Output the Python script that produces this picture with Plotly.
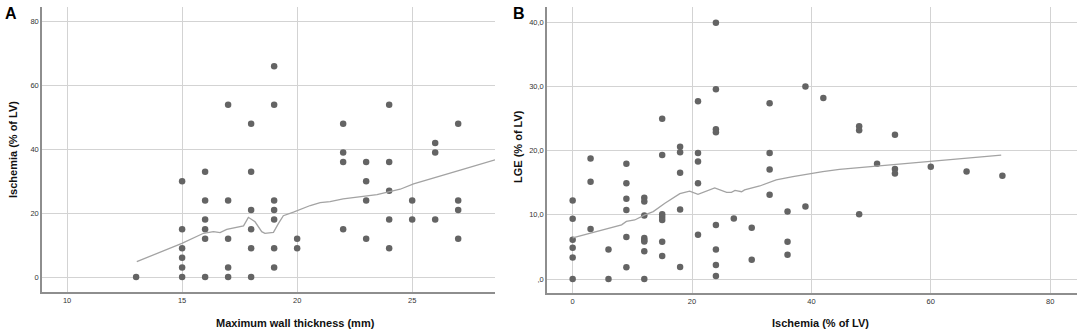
import plotly.graph_objects as go

W, H = 1084, 334

# ---- Panel A data: Maximum wall thickness (mm) vs Ischemia (% of LV)
a_x = [13,
       15, 15, 15, 15, 15, 15,
       16, 16, 16, 16, 16, 16,
       17, 17, 17, 17, 17,
       18, 18, 18, 18, 18, 18,
       19, 19, 19, 19, 19, 19, 19,
       20, 20,
       22, 22, 22, 22,
       23, 23, 23, 23,
       24, 24, 24, 24, 24,
       25, 25,
       26, 26, 26,
       27, 27, 27, 27]
a_y = [0,
       30, 15, 9, 6, 3, 0,
       33, 24, 18, 15, 12, 0,
       54, 24, 12, 3, 0,
       48, 33, 21, 15, 9, 0,
       66, 54, 24, 21, 18, 9, 3,
       12, 9,
       48, 39, 36, 15,
       36, 30, 24, 12,
       54, 36, 27, 18, 9,
       24, 18,
       42, 39, 18,
       48, 24, 21, 12]
a_fit_x = [13.03, 14.99, 15.93, 16.36, 16.65, 16.94, 17.67, 17.88, 18.17, 18.46,
           18.6, 18.97, 19.19, 19.4, 19.84, 20.13, 20.57, 21.0, 21.43, 22.0,
           22.6, 23.47, 24.48, 25.06, 27.09, 28.6]
a_fit_y = [4.8, 10.55, 13.7, 14.2, 13.9, 14.9, 16.0, 18.7, 17.3, 14.2,
           13.7, 14.0, 16.8, 19.2, 20.3, 21.2, 22.4, 23.3, 23.6, 24.45,
           25.0, 25.8, 27.5, 29.2, 33.5, 36.7]
a_xticks = [10, 15, 20, 25]
a_yticks = [0, 20, 40, 60, 80]

# ---- Panel B data: Ischemia (% of LV) vs LGE (% of LV)
b_x = [0, 0, 0, 0, 0, 0,
       3, 3, 3,
       6, 6,
       9, 9, 9, 9, 9, 9,
       12, 12, 12, 12, 12, 12, 12, 12,
       15, 15, 15, 15, 15, 15, 15,
       18, 18, 18, 18, 18,
       21, 21, 21, 21, 21,
       24, 24, 24, 24, 24, 24, 24, 24,
       27,
       30, 30,
       33, 33, 33, 33,
       36, 36, 36,
       39, 39,
       42,
       48, 48, 48,
       51,
       54, 54, 54,
       60, 66, 72]
b_y = [12.24, 9.39, 6.12, 4.88, 3.37, 0,
       18.78, 15.15, 7.78,
       4.62, 0,
       17.95, 14.94, 12.5, 10.74, 6.54, 1.82,
       12.66, 12.1, 9.91, 6.4, 6.1, 5.85, 4.31, 0,
       25.0, 19.35, 10.1, 9.65, 9.2, 5.81, 3.58,
       20.6, 19.77, 16.55, 10.84, 1.87,
       27.7, 19.66, 18.31, 14.94, 6.9,
       39.95, 29.57, 23.35, 22.88, 8.4, 4.62, 2.18, 0.47,
       9.44,
       8.0, 3.0,
       27.4, 19.66, 17.07, 13.13,
       10.53, 5.81, 3.79,
       29.99, 11.31,
       28.2,
       23.8, 23.2, 10.1,
       17.95,
       22.5, 17.15, 16.45,
       17.48, 16.76, 16.08]
b_fit_x = [0, 4.3, 8.2, 9.0, 10.4, 12.1, 13.5, 15.45, 17.96, 19.6, 21.0, 23.8,
           25.8, 26.6, 27.2, 28.3, 28.8, 31.35, 34.1, 36.9, 40.0, 41.9, 44.7,
           50.9, 59.9, 71.8]
b_fit_y = [6.4, 7.5, 8.45, 8.97, 9.2, 10.0, 10.5, 11.8, 13.3, 13.7, 13.2, 14.2,
           13.5, 13.5, 13.8, 13.6, 13.9, 14.5, 15.45, 15.97, 16.5, 16.75, 17.1,
           17.6, 18.3, 19.3]
b_xticks = [0, 20, 40, 60, 80]
b_yticks = [0, 10, 20, 30, 40]
b_yticktext = [",0", "10,0", "20,0", "30,0", "40,0"]

DOT = "#646464"
LINE = "#a3a3a3"
GRID = "#d3d3d3"
AXIS = "#8e8e8e"
FONT = "Liberation Sans, Arial, sans-serif"


def px(x):
    return x / W


def py(y):
    return 1 - y / H


fig = go.Figure()
fig.add_trace(go.Scatter(x=a_x, y=a_y, mode="markers", xaxis="x", yaxis="y",
                         marker=dict(size=6.5, color=DOT), showlegend=False))
fig.add_trace(go.Scatter(x=a_fit_x, y=a_fit_y, mode="lines", xaxis="x", yaxis="y",
                         line=dict(color=LINE, width=1.3), showlegend=False))
fig.add_trace(go.Scatter(x=b_x, y=b_y, mode="markers", xaxis="x2", yaxis="y2",
                         marker=dict(size=6.5, color=DOT), showlegend=False))
fig.add_trace(go.Scatter(x=b_fit_x, y=b_fit_y, mode="lines", xaxis="x2", yaxis="y2",
                         line=dict(color=LINE, width=1.3), showlegend=False))

common = dict(showgrid=True, gridcolor=GRID, gridwidth=1, zeroline=False,
              showline=True, linecolor=AXIS, linewidth=1.5, ticks="",
              tickfont=dict(family=FONT, size=7.5, color="#333333"), mirror=False)

fig.update_layout(
    width=W, height=H, margin=dict(l=0, r=0, t=0, b=0),
    plot_bgcolor="white", paper_bgcolor="white",
    xaxis=dict(domain=[px(42), px(495)], range=[8.91, 28.6], tickvals=a_xticks,
               anchor="y", **common),
    yaxis=dict(domain=[py(292), py(7)], range=[-4.7, 84.6], tickvals=a_yticks,
               anchor="x", **common),
    xaxis2=dict(domain=[px(547), px(1077)], range=[-4.3, 84.5], tickvals=b_xticks,
                anchor="y2", **common),
    yaxis2=dict(domain=[py(293), py(7)], range=[-2.18, 42.4], tickvals=b_yticks,
                ticktext=b_yticktext, anchor="x2", **common),
)

title_font = dict(family=FONT, size=11, color="#111111")
ann = [
    dict(text="<b>A</b>", x=px(3), y=py(3), xanchor="left", yanchor="top",
         font=dict(family=FONT, size=16, color="#000000")),
    dict(text="<b>B</b>", x=px(511), y=py(3), xanchor="left", yanchor="top",
         font=dict(family=FONT, size=16, color="#000000")),
    dict(text="<b>Maximum wall thickness (mm)</b>", x=px(295), y=py(323),
         xanchor="center", yanchor="middle", font=title_font),
    dict(text="<b>Ischemia (% of LV)</b>", x=px(820), y=py(323),
         xanchor="center", yanchor="middle", font=title_font),
    dict(text="<b>Ischemia (% of LV)</b>", x=px(13), y=py(150), textangle=-90,
         xanchor="center", yanchor="middle", font=title_font),
    dict(text="<b>LGE (% of LV)</b>", x=px(518), y=py(147), textangle=-90,
         xanchor="center", yanchor="middle", font=title_font),
]
for a in ann:
    a.update(xref="paper", yref="paper", showarrow=False)
fig.update_layout(annotations=ann)

fig.write_html("out.html", config={"displayModeBar": False},
               post_script="document.body.style.margin='0';document.body.style.overflow='hidden';")
